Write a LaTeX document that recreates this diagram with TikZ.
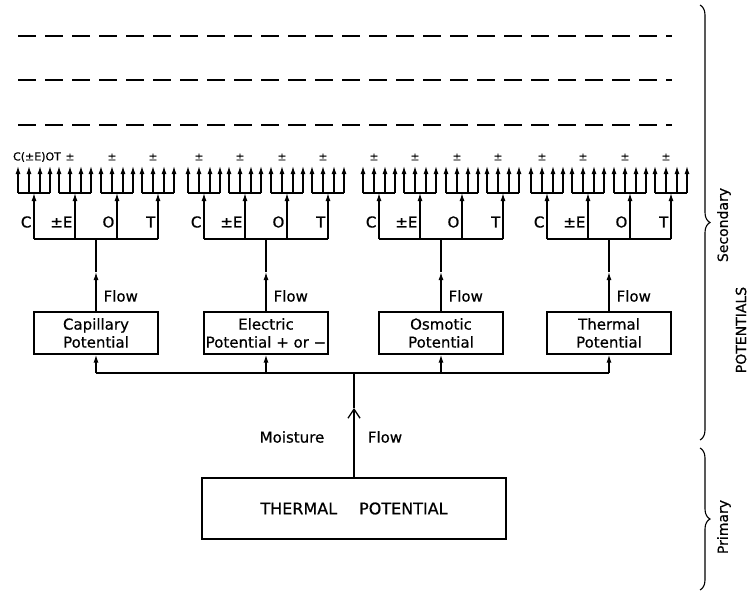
\documentclass[tikz,border=0pt]{standalone}
\usepackage{fontspec}
\setmainfont[FakeBold=0.6]{DejaVu Sans}
\usetikzlibrary{arrows.meta,decorations.pathreplacing,calc}

\tikzset{
    potbox/.style={draw, minimum width=124pt, minimum height=42pt, align=center, inner sep=0pt, font=\fontsize{15}{18}\selectfont},
    lbl/.style={inner sep=0pt, font=\fontsize{15}{18}\selectfont},
    toplbl/.style={inner sep=0pt, font=\fontsize{11}{13}\selectfont},
    sidelbl/.style={inner sep=0pt, rotate=90, font=\fontsize{14}{16}\selectfont},
    fillhead/.style={-{Latex[length=8pt,width=5pt]}},
    openhead/.style={-{Straight Barb[length=9pt,width=12pt]}},
    bracket/.style={decorate, decoration={brace, amplitude=10pt}},
}

\begin{document}
\begin{tikzpicture}[x=1pt, y=-1pt, line width=1.3pt]
    \useasboundingbox (0,0) rectangle (748,594);

    % dashed rows on top
    \foreach \y [count=\i] in {36,80,125} {
        \coordinate (dl\i) at (18,\y);
        \coordinate (dr\i) at (672,\y);
        \draw[dash pattern=on 18pt off 9pt] (dl\i) -- (dr\i);
    }

    % primary
    \node[draw, minimum width=304pt, minimum height=61pt, font=\fontsize{16}{19}\selectfont] (thermal) at (354,508.5) {THERMAL\hspace{22pt}POTENTIAL};
    \coordinate (mhead) at (354,408);
    \coordinate (hub) at (354,373);
    \draw[openhead] (thermal.north) -- (mhead);
    \draw (mhead) -- (hub);
    \node[lbl] (moisture) at (292,437) {Moisture};
    \node[lbl] (mflow) at (385,437) {Flow};

    % secondary
    \foreach \c/\t [count=\i] in {96/{Capillary\\Potential}, 266/{Electric\\Potential + or −}, 441/{Osmotic\\Potential}, 609/{Thermal\\Potential}} {
        \node[potbox] (box\i) at (\c,333) {\t};
        \coordinate (in\i) at (\c,373);
        \coordinate (fh\i) at (\c,272);
        \coordinate (bar\i) at (\c,239);
        \draw[fillhead] (in\i) -- (box\i.south);
        \draw[fillhead] (box\i.north) -- (fh\i);
        \draw (fh\i) -- (bar\i);
        \node[lbl, anchor=west] (flow\i) at ({\c+7},296) {Flow};

        \foreach \o/\l [count=\j] in {-62/C, -21/±E, 21/O, 62/T} {
            \coordinate (br\i\j) at ({\c+\o},239);
            \coordinate (sb\i\j) at ({\c+\o},193);
            \draw[fillhead] (br\i\j) -- (sb\i\j);
            \node[lbl, anchor=east] (lb\i\j) at ({\c+\o-2},222) {\l};
            \draw ($(sb\i\j)+(-16,0)$) -- ($(sb\i\j)+(16,0)$);
            \foreach \k [count=\m] in {-16,-5,6,16} {
                \coordinate (sa\i\j\m) at ({\c+\o+\k},193);
                \coordinate (st\i\j\m) at ({\c+\o+\k},166);
                \draw[fillhead] (sa\i\j\m) -- (st\i\j\m);
            }
            \ifnum\numexpr\i*10+\j\relax=11 \else
                \node[toplbl] (pm\i\j) at ({\c+\o-5},157) {±};
            \fi
        }
        \draw (br\i1) -- (br\i4);
    }
    \node[toplbl] (ceot) at (37,157) {C(±E)OT};

    % hub line to the four boxes
    \draw (in1) -- (in4);
    \draw (hub) -- (in4);

    % braces and side labels
    \coordinate (sectop) at (700,5);
    \coordinate (secbot) at (700,440);
    \coordinate (pritop) at (700,448);
    \coordinate (pribot) at (700,590);
    \draw[bracket, line width=1.1pt] (sectop) -- (secbot);
    \draw[bracket, line width=1.1pt] (pritop) -- (pribot);
    \node[sidelbl] (secondary) at (724,225) {Secondary};
    \node[sidelbl] (primary) at (724,527) {Primary};
    \node[sidelbl] (potentials) at (741,330) {POTENTIALS};
\end{tikzpicture}
\end{document}
